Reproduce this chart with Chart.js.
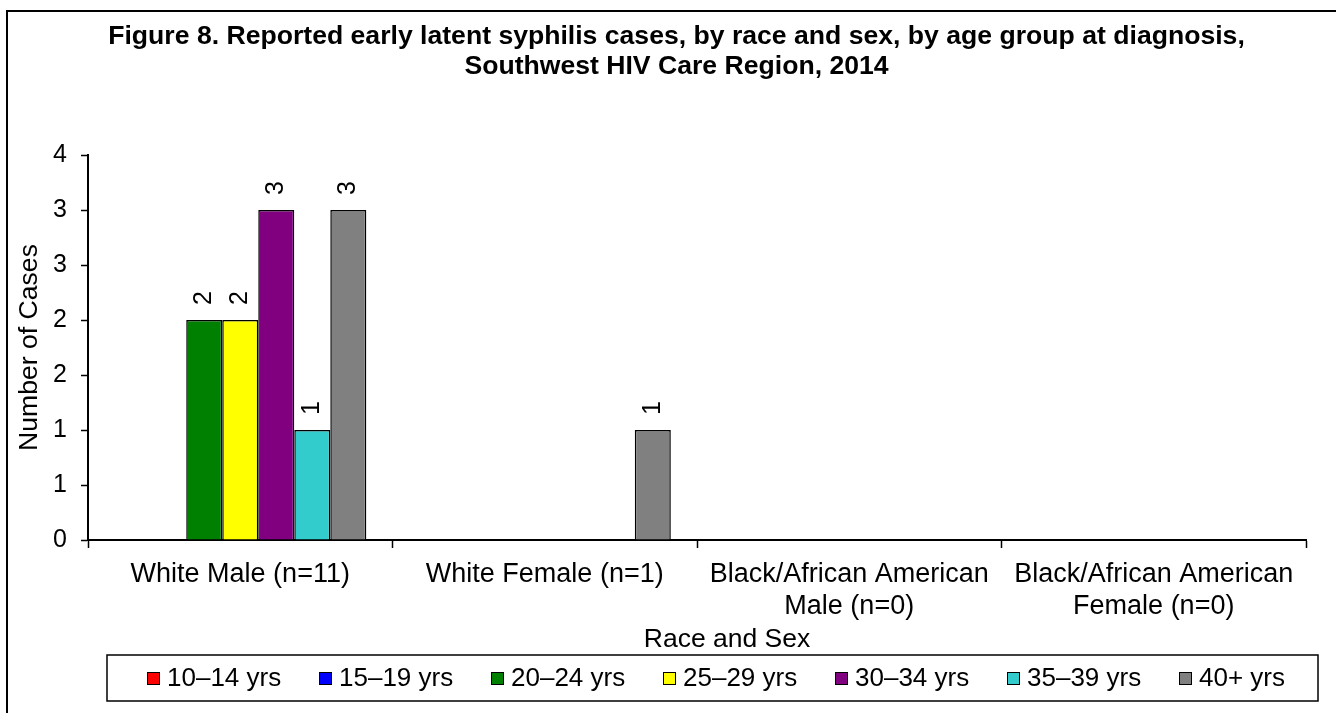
<!DOCTYPE html>
<html>
<head>
<meta charset="utf-8">
<title>Figure 8 - Early latent syphilis, Southwest HIV Care Region, 2014</title>
<script src="https://cdn.jsdelivr.net/npm/chart.js@4.4.1/dist/chart.umd.min.js"></script>
<style>
    html, body { margin: 0; padding: 0; background: #fff; }
    #wrap { width: 1336px; height: 713px; position: relative; }
</style>
</head>
<body>
<div id="wrap"><canvas id="syphilisChart"></canvas></div>
<script>
// =======================================================================
// 1. DATA
// =======================================================================
const categories = [
    ['White Male (n=11)'],
    ['White Female (n=1)'],
    ['Black/African American', 'Male (n=0)'],
    ['Black/African American', 'Female (n=0)']
];
const ageGroups = ['10–14 yrs', '15–19 yrs', '20–24 yrs', '25–29 yrs', '30–34 yrs', '35–39 yrs', '40+ yrs'];
const ageColors = ['#FF0000', '#0000FF', '#008000', '#FFFF00', '#800080', '#33CCCC', '#808080'];

const cases10to14 = [0, 0, 0, 0];
const cases15to19 = [0, 0, 0, 0];
const cases20to24 = [2, 0, 0, 0];
const cases25to29 = [2, 0, 0, 0];
const cases30to34 = [3, 0, 0, 0];
const cases35to39 = [1, 0, 0, 0];
const cases40plus = [3, 1, 0, 0];

// Excel rounds the 0.5 steps, so the axis shows 0,1,1,2,2,3,3,4
const yTickLabels = ['0', '1', '1', '2', '2', '3', '3', '4'];

const seriesByAge = [cases10to14, cases15to19, cases20to24, cases25to29, cases30to34, cases35to39, cases40plus];
const FONT = '"Liberation Sans", Arial, sans-serif';

// =======================================================================
// 2. SMALL PLUGINS (frame, value labels, x title, boxed legend)
// =======================================================================
const frame = {
    id: 'frame',
    beforeDraw(chart) {
        const c = chart.ctx;
        c.save();
        c.fillStyle = '#fff';
        c.fillRect(0, 0, chart.width, chart.height);
        // only the top and left edges of the original frame are in the picture
        c.strokeStyle = '#000';
        c.lineWidth = 2;
        c.beginPath();
        c.moveTo(7, chart.height + 2);
        c.lineTo(7, 11);
        c.lineTo(chart.width + 2, 11);
        c.stroke();
        c.restore();
    }
};

const valueLabels = {
    id: 'valueLabels',
    afterDatasetsDraw(chart) {
        const c = chart.ctx;
        c.save();
        c.font = '25px ' + FONT;
        c.fillStyle = '#000';
        c.textAlign = 'center';
        c.textBaseline = 'middle';
        chart.data.datasets.forEach((ds, i) => {
            chart.getDatasetMeta(i).data.forEach((bar, j) => {
                const v = ds.data[j];
                if (!v) return; // Excel shows nothing for empty bars
                c.save();
                c.translate(bar.x, bar.y - 22);
                c.rotate(-Math.PI / 2);
                c.fillText(String(v), 0, 0);
                c.restore();
            });
        });
        c.restore();
    }
};

// the axis title sits a bit right of the plot centre in the original
const xAxisTitle = {
    id: 'xAxisTitle',
    afterDraw(chart) {
        const c = chart.ctx;
        c.save();
        c.font = '26.5px ' + FONT;
        c.fillStyle = '#000';
        c.textAlign = 'center';
        c.textBaseline = 'middle';
        c.fillText('Race and Sex', 727, 640);
        c.restore();
    }
};

const boxedLegend = {
    id: 'boxedLegend',
    afterDraw(chart) {
        const c = chart.ctx;
        const step = 172, y = 678;
        c.save();
        c.strokeStyle = '#000';
        c.lineWidth = 1.5;
        c.strokeRect(107, 655, 1211, 46);
        c.font = '26px ' + FONT;
        c.textBaseline = 'middle';
        c.textAlign = 'left';
        chart.data.datasets.forEach((ds, i) => {
            const x = 147 + i * step;
            c.fillStyle = ds.backgroundColor;
            c.fillRect(x, y - 6, 12, 13);
            c.lineWidth = 1;
            c.strokeRect(x + 0.5, y - 5.5, 12, 12);
            c.fillStyle = '#000';
            c.fillText(ds.label, x + 20, y + 1);
        });
        c.restore();
    }
};

// =======================================================================
// 3. CHART
// =======================================================================
const ctx = document.getElementById('syphilisChart').getContext('2d');
window.syphilisChart = new Chart(ctx, {
    type: 'bar',
    data: {
        labels: categories,
        datasets: ageGroups.map((g, i) => ({
            label: g,
            data: seriesByAge[i],
            backgroundColor: ageColors[i],
            borderColor: '#000',
            borderWidth: (c) => (c.raw ? 1.5 : 0),
            categoryPercentage: 0.828,
            barPercentage: 1
        }))
    },
    options: {
        responsive: true,
        maintainAspectRatio: false,
        animation: false,
        devicePixelRatio: 1,
        layout: { padding: { left: 17, right: 0, top: 0, bottom: 58 } },
        plugins: {
            legend: { display: false },
            tooltip: { enabled: false },
            title: {
                display: true,
                text: ['Figure 8. Reported early latent syphilis cases, by race and sex, by age group at diagnosis,',
                       'Southwest HIV Care Region, 2014'],
                color: '#000',
                font: { family: FONT, size: 26.6, weight: 'bold', lineHeight: 30 / 26.6 },
                padding: { top: 22, bottom: 73 }
            }
        },
        scales: {
            x: {
                grid: { display: true, drawOnChartArea: false, drawTicks: true, tickLength: 8, tickWidth: 1.5, tickColor: '#000', offset: true },
                border: { display: true, color: '#000', width: 2 },
                ticks: { color: '#000', font: { family: FONT, size: 27, lineHeight: 1.18 }, padding: 11, maxRotation: 0, autoSkip: false },
                afterFit(scale) { scale.height = 115; }
            },
            y: {
                min: 0,
                max: 3.5,
                ticks: {
                    stepSize: 0.5,
                    color: '#000',
                    font: { family: FONT, size: 25 },
                    padding: 14,
                    callback: (v, i) => yTickLabels[i]
                },
                grid: { display: true, drawOnChartArea: false, drawTicks: true, tickLength: 7, tickWidth: 1.5, tickColor: '#000' },
                border: { display: true, color: '#000', width: 2 },
                title: { display: true, text: 'Number of Cases', color: '#000', font: { family: FONT, size: 26.6, lineHeight: 1 }, padding: { top: -1, bottom: 0 } },
                afterFit(scale) { scale.width = 71; }
            },
            // empty strip on the right so the plot stops where the original does
            rightGap: {
                position: 'right',
                display: true,
                grid: { display: false },
                border: { display: false },
                ticks: { display: false },
                afterFit(scale) { scale.width = 30; }
            }
        }
    },
    plugins: [frame, valueLabels, xAxisTitle, boxedLegend]
});
</script>
</body>
</html>
